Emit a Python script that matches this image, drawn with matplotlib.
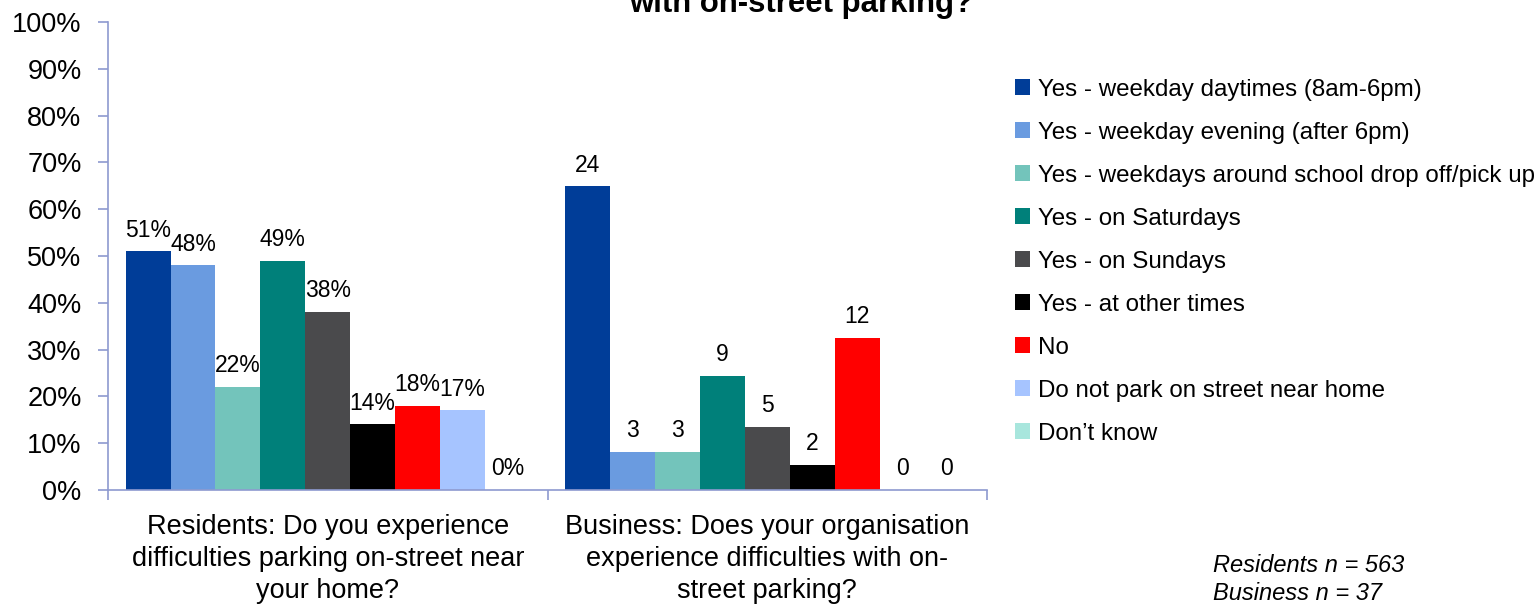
import matplotlib
matplotlib.use("Agg")
import matplotlib.pyplot as plt
from matplotlib.patches import Patch
import numpy as np

plt.rcParams["font.family"] = ["Liberation Sans", "DejaVu Sans"]

# Survey groups (category axis)
groups = [
    "Residents: Do you experience\ndifficulties parking on-street near\nyour home?",
    "Business: Does your organisation\nexperience difficulties with on-\nstreet parking?",
]

# Answer options (one bar per option in each group)
series = [
    "Yes - weekday daytimes (8am-6pm)",
    "Yes - weekday evening (after 6pm)",
    "Yes - weekdays around school drop off/pick up",
    "Yes - on Saturdays",
    "Yes - on Sundays",
    "Yes - at other times",
    "No",
    "Do not park on street near home",
    "Don\u2019t know",
]
colors = ["#003D98", "#6A9BE0", "#73C4BB", "#00807A", "#4A4A4C",
          "#000000", "#FF0000", "#A6C4FF", "#A8E6DD"]

# Residents: percentage of respondents
residents_pct = [51, 48, 22, 49, 38, 14, 18, 17, 0]
residents_n = 563

# Business: number of respondents
business_count = [24, 3, 3, 9, 5, 2, 12, 0, 0]
business_n = 37

fig = plt.figure(figsize=(15.37, 6.04), dpi=100)
ax = fig.add_axes([108 / 1537, 1 - 490 / 604, (987 - 108) / 1537, (490 - 22) / 604])

n_series = len(series)
bar_w = 0.92 / n_series
centers = np.array([0.5, 1.5])

business_pct = [c / business_n * 100 for c in business_count]

for i, (name, col) in enumerate(zip(series, colors)):
    x = centers + (i - (n_series - 1) / 2) * bar_w
    heights = [residents_pct[i], business_pct[i]]
    ax.bar(x, heights, width=bar_w, color=col, label=name, zorder=2)
    labels = [f"{residents_pct[i]}%", f"{business_count[i]}"]
    for xx, h, lab in zip(x, heights, labels):
        ax.annotate(lab, (xx, h), xytext=(0, 7), textcoords="offset points",
                    ha="center", va="bottom", fontsize=16.5)

ax.set_xlim(0, 2)
ax.set_ylim(0, 100)
ax.set_yticks(np.arange(0, 101, 10))
ax.set_yticklabels([f"{v}%" for v in range(0, 101, 10)], fontsize=19.5)
ax.set_xticks([0, 1, 2])
ax.set_xticklabels([])
ax.set_xticks(centers, minor=True)
ax.set_xticklabels(groups, minor=True, fontsize=19.5, linespacing=1.3)
ax.tick_params(axis="x", which="minor", length=0, pad=17)
ax.tick_params(axis="x", which="major", length=7, color="#8E9AD0", width=1.2)
ax.tick_params(axis="y", length=7, color="#8E9AD0", width=1.2, pad=12)

for side in ["top", "right"]:
    ax.spines[side].set_visible(False)
for side in ["left", "bottom"]:
    ax.spines[side].set_color("#8E9AD0")
    ax.spines[side].set_linewidth(1.2)

handles = [Patch(facecolor=c, edgecolor="none") for c in colors]
fig.legend(handles, series, loc="upper left",
           bbox_to_anchor=(1005 / 1537, 1 - 69 / 604), frameon=False,
           fontsize=17.4, handlelength=0.65, handleheight=0.65,
           handletextpad=0.3, labelspacing=0.87, borderaxespad=0)

fig.text(801 / 1537, 1 - 12 / 604, "with on-street parking?", ha="center",
         va="baseline", fontsize=22.4, fontweight="bold")

fig.text(1213 / 1537, 1 - 565 / 604, f"Residents n = {residents_n}",
         fontsize=17, style="italic", va="center")
fig.text(1213 / 1537, 1 - 593 / 604, f"Business n = {business_n}",
         fontsize=17, style="italic", va="center")

fig.savefig("out.png", dpi=100)
